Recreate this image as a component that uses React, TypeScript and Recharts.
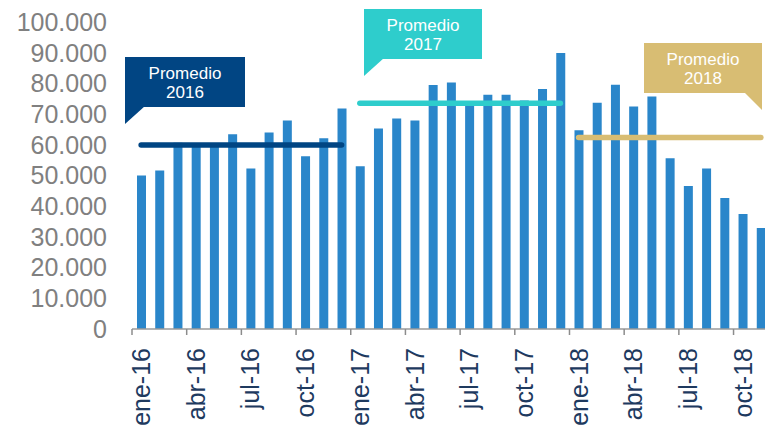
import React from "react"
import { ComposedChart, Bar, Line, XAxis, YAxis } from "recharts"

const months = [
  "ene-16", "feb-16", "mar-16", "abr-16", "may-16", "jun-16", "jul-16", "ago-16", "sep-16", "oct-16", "nov-16", "dic-16",
  "ene-17", "feb-17", "mar-17", "abr-17", "may-17", "jun-17", "jul-17", "ago-17", "sep-17", "oct-17", "nov-17", "dic-17",
  "ene-18", "feb-18", "mar-18", "abr-18", "may-18", "jun-18", "jul-18", "ago-18", "sep-18", "oct-18", "nov-18",
]

const values2016 = [50000, 51600, 60700, 60400, 60100, 63400, 52300, 64000, 67900, 56300, 62100, 71800]
const values2017 = [53000, 65300, 68600, 67900, 79500, 80300, 72600, 76300, 76300, 74400, 78200, 89900]
const values2018 = [64700, 73700, 79600, 72500, 75700, 55600, 46600, 52300, 42700, 37500, 32900]

const avg2016 = 59900
const avg2017 = 73500
const avg2018 = 62400

const yTicks = [0, 10000, 20000, 30000, 40000, 50000, 60000, 70000, 80000, 90000, 100000]

const allValues = [...values2016, ...values2017, ...values2018]

const data = months.map((m, i) => ({
  month: m,
  value: allValues[i],
  p2016: i < 12 ? avg2016 : null,
  p2017: i >= 12 && i < 24 ? avg2017 : null,
  p2018: i >= 24 ? avg2018 : null,
}))

const CHART_W = 780
const CHART_H = 429
const Y_W = 132
const RIGHT = 10
const STEP = (CHART_W - Y_W - RIGHT) / months.length

const FONT = "'Liberation Sans', Arial, sans-serif"

const fmt = (v: number) => String(v).replace(/\B(?=(\d{3})+(?!\d))/g, ".")

function MonthTick(props: any) {
  const { x, y, payload, index } = props
  const i = payload?.index ?? index
  if (i % 3 !== 0) return null
  const bx = x - STEP / 2
  return (
    <g>
      <line x1={bx} y1={y} x2={bx} y2={y + 6} stroke="#8C8C8C" strokeWidth={1.5} />
      <text
        transform={`translate(${x},${y}) rotate(-90)`}
        x={-19}
        dy="0.36em"
        textAnchor="end"
        fontSize={25}
        fontFamily={FONT}
        fill="#1E3A5F"
      >
        {payload.value}
      </text>
    </g>
  )
}

function Callout({ x, y, w, h, fill, year, tail }: any) {
  return (
    <g>
      <rect x={x} y={y} width={w} height={h} fill={fill} />
      <polygon points={tail} fill={fill} />
      <text x={x + w / 2} y={y + 22} textAnchor="middle" fontSize={17} fontFamily={FONT} fill="#FFFFFF">
        Promedio
      </text>
      <text x={x + w / 2} y={y + 41} textAnchor="middle" fontSize={17} fontFamily={FONT} fill="#FFFFFF">
        {year}
      </text>
    </g>
  )
}

export default function App() {
  return (
    <div
      style={{
        position: "absolute",
        left: 0,
        top: 0,
        width: 765,
        height: 429,
        overflow: "hidden",
        background: "#FFFFFF",
      }}
    >
      <ComposedChart
        width={CHART_W}
        height={CHART_H}
        data={data}
        margin={{ top: 22, right: RIGHT, left: 0, bottom: 0 }}
      >
        <XAxis
          dataKey="month"
          interval={0}
          height={100}
          tickSize={0}
          tickMargin={0}
          tickLine={false}
          axisLine={{ stroke: "#9A9A9A", strokeWidth: 1.5 }}
          tick={<MonthTick />}
        />
        <YAxis
          width={Y_W}
          domain={[0, 100000]}
          ticks={yTicks}
          interval={0}
          tickFormatter={fmt}
          axisLine={false}
          tickLine={false}
          tickSize={0}
          tickMargin={25}
          tick={{ fontSize: 25, fill: "#808080", fontFamily: FONT }}
        />
        <Bar dataKey="value" fill="#2A86CA" barSize={9} isAnimationActive={false} />
        <Line dataKey="p2016" stroke="#004583" strokeWidth={5.5} strokeLinecap="round" dot={false} activeDot={false} isAnimationActive={false} />
        <Line dataKey="p2017" stroke="#2ECDCC" strokeWidth={5.5} strokeLinecap="round" dot={false} activeDot={false} isAnimationActive={false} />
        <Line dataKey="p2018" stroke="#D8BD73" strokeWidth={5.5} strokeLinecap="round" dot={false} activeDot={false} isAnimationActive={false} />
      </ComposedChart>
      <svg width={765} height={429} style={{ position: "absolute", left: 0, top: 0, pointerEvents: "none" }}>
        <Callout x={125} y={57} w={120} h={50} fill="#014583" year="2016" tail="125,106 145,106 125,124" />
        <Callout x={364} y={9} w={118} h={50} fill="#2ECDCC" year="2017" tail="364,58 384,58 364,76" />
        <Callout x={644} y={43} w={118} h={50} fill="#D8BD73" year="2018" tail="744,92 762,92 762,110" />
      </svg>
    </div>
  )
}
